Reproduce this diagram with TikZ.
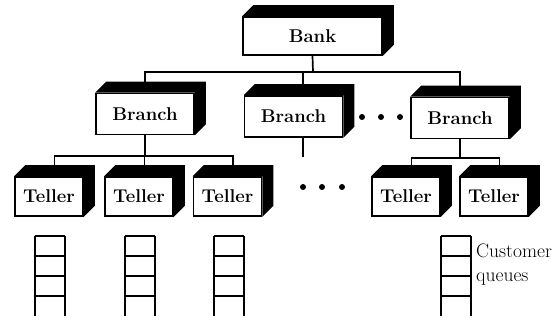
\documentclass[tikz,border=0pt]{standalone}
\usepackage{fontspec}
\usetikzlibrary{positioning}
\tikzset{
  block/.style={draw, fill=white, line width=1.7pt, inner sep=0pt,
                font=\fontsize{18.5}{20}\selectfont\bfseries},
  bankbox/.style={block, minimum width=139pt, minimum height=38pt},
  branchbox/.style={block, minimum width=98pt, minimum height=41pt},
  tellerbox/.style={block, minimum width=68pt, minimum height=39pt},
  link/.style={line width=1.7pt},
  rung/.style={line width=1.8pt},
  dot/.style={circle, fill, inner sep=0pt, minimum size=6pt},
}

\begin{document}
\begin{tikzpicture}[x=1pt, y=1pt]
  \useasboundingbox (0,0) rectangle (559,320);
  \def\d{11}

  % front faces
  \node[bankbox] (bank) at (312.5,284) {Bank};
  \node[branchbox] (branch1) at (145,206) {Branch};
  \node[branchbox] (branch2) at (293.5,203.5) {Branch};
  \node[branchbox] (branch3) at (460,202) {Branch};
  \node[tellerbox] (teller1) at (49,123.5) {Teller};
  \node[tellerbox] (teller2) at (139,123.5) {Teller};
  \node[tellerbox] (teller3) at (227.5,123.5) {Teller};
  \node[tellerbox] (teller4) at (406,123.5) {Teller};
  \node[tellerbox] (teller5) at (494,123.5) {Teller};

  % solid top and side faces
  \foreach \n in {bank,branch1,branch2,branch3,teller1,teller2,teller3,teller4,teller5}
    \fill (\n.north west) -- ++(\d,\d) -- ([shift={(\d,\d)}]\n.north east)
      -- ([shift={(\d,\d)}]\n.south east) -- (\n.south east) -- (\n.north east) -- cycle;

  % tops of the solid boxes
  \foreach \n in {1,...,5}
    \coordinate (top\n) at ([xshift=\d/2,yshift=\d]teller\n.north);
  \coordinate (btop1) at ([yshift=\d]branch1.north);
  \coordinate (btop2) at ([xshift=9.5,yshift=\d]branch2.north);
  \coordinate (btop3) at ([yshift=\d]branch3.north);
  \coordinate (bbot2) at ([xshift=9.5]branch2.south);

  % bank to branches
  \coordinate (bankbus) at (313,248);
  \draw[link] (bank.south) -- (bankbus);
  \draw[link] (btop1) -- (btop1 |- bankbus) -- (btop3 |- bankbus) -- (btop3);
  \draw[link] (btop2) -- (btop2 |- bankbus);

  % branches to tellers
  \coordinate (bus1) at (0,164);
  \coordinate (bus3) at (0,162);
  \coordinate (stub) at (303,163);
  \draw[link] (branch1.south) -- (branch1.south |- bus1);
  \draw[link] (top1) -- (top1 |- bus1) -- (top3 |- bus1) -- (top3);
  \draw[link] (top2) -- (top2 |- bus1);
  \draw[link] (bbot2) -- (stub);
  \draw[link] (branch3.south) -- (branch3.south |- bus3);
  \draw[link] (top4) -- (top4 |- bus3) -- (top5 |- bus3) -- (top5);

  % ellipses
  \foreach \x in {362,381,400}
    \node[dot] at (\x,203) {};
  \foreach \x in {303,322,342}
    \node[dot] at (\x,133) {};

  % customer queues
  \foreach \q in {50,140,229,456} {
    \draw[rung] (\q-15,84) -- (\q-15,4);
    \draw[rung] (\q+15,84) -- (\q+15,4);
    \foreach \r in {84,64,44,24}
      \draw[rung] (\q-15,\r) -- (\q+15,\r);
  }
  \node[anchor=west, align=left, inner sep=0pt, font=\fontsize{19.5}{24}\selectfont] (queuelabel) at (476,55) {Customer\\queues};

\end{tikzpicture}
\end{document}
